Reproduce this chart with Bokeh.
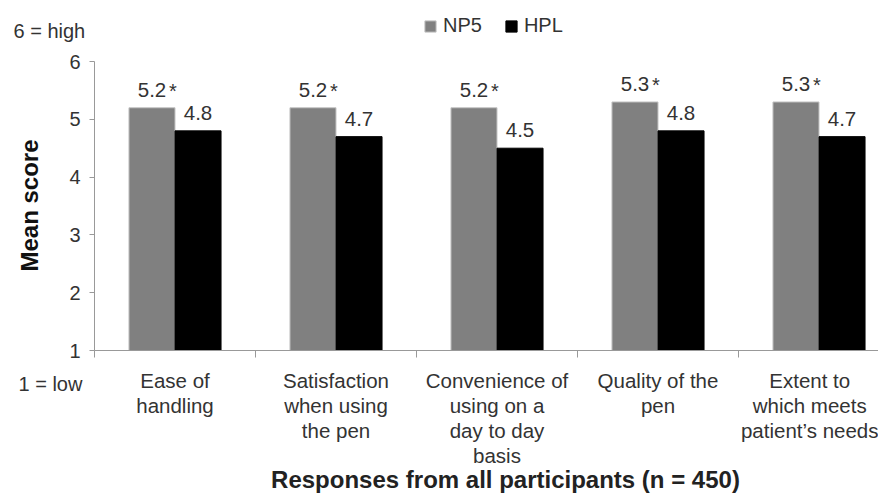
import math
from bokeh.plotting import figure
from bokeh.models import ColumnDataSource, FixedTicker, Legend, LegendItem, Label, Range1d
from bokeh.core.properties import value
from bokeh.embed import file_html
from bokeh.resources import INLINE

categories = ["Ease of\nhandling", "Satisfaction\nwhen using\nthe pen",
              "Convenience of\nusing on a\nday to day\nbasis", "Quality of the\npen",
              "Extent to\nwhich meets\npatient\u2019s needs"]
np5 = [5.2, 5.2, 5.2, 5.3, 5.3]
hpl = [4.8, 4.7, 4.5, 4.8, 4.7]
series_names = ["NP5", "HPL"]
y_ticks = [1, 2, 3, 4, 5, 6]

FONT = "Liberation Sans"
TXT = "#333333"

W, H = 878, 494
X0, Y0 = 94, 350          # pixel position of (x=0, score=1)
PX_CAT, PX_UNIT = 161, 57.8

def dx(px):
    return (px - X0) / PX_CAT

def dy(py):
    return 1 + (Y0 - py) / PX_UNIT

centers = [i + 0.5 for i in range(len(categories))]
src = ColumnDataSource(dict(
    xn=[c - 0.143 for c in centers], xh=[c + 0.143 for c in centers],
    np5=np5, hpl=hpl,
    np5_lab=[f"{v:.1f}" for v in np5], hpl_lab=[f"{v:.1f}" for v in hpl],
    star=["*"] * len(np5),
))

p = figure(width=W, height=H, output_backend="svg", toolbar_location=None,
           x_range=Range1d(dx(0), dx(W)), y_range=Range1d(dy(H), dy(0)),
           min_border=0)
p.outline_line_color = None
p.grid.visible = False
p.background_fill_color = "white"

rn = p.vbar(x="xn", top="np5", bottom=1, width=0.286, source=src,
            fill_color="#808080", line_color="#c4c4c4", line_width=1)
rh = p.vbar(x="xh", top="hpl", bottom=1, width=0.286, source=src,
            fill_color="#000000", line_color="#000000", line_width=1)

p.text(x="xn", y="np5", text="np5_lab", source=src, text_align="center", text_baseline="bottom",
       y_offset=-11, text_font=value(FONT), text_font_size="20.5px", text_color=TXT)
p.text(x="xn", y="np5", text="star", source=src, text_align="left", text_baseline="bottom",
       x_offset=17, y_offset=-6, text_font=value(FONT), text_font_size="20px", text_color=TXT)
p.text(x="xh", y="hpl", text="hpl_lab", source=src, text_align="center", text_baseline="bottom",
       y_offset=-11, text_font=value(FONT), text_font_size="20.5px", text_color=TXT)

xa = p.xaxis[0]
xa.fixed_location = 1
xa.bounds = (0, dx(W))
xa.ticker = FixedTicker(ticks=centers, minor_ticks=list(range(len(categories) + 1)))
xa.major_label_overrides = {c: lab for c, lab in zip(centers, categories)}
xa.major_tick_line_color = None
xa.major_tick_out = 7
xa.major_tick_in = 0
xa.minor_tick_out = 7
xa.minor_tick_in = 0
xa.minor_tick_line_color = "#999999"
xa.axis_line_color = "#999999"
xa.major_label_text_font = FONT
xa.major_label_text_font_size = "20.5px"
xa.major_label_text_color = TXT
xa.major_label_text_line_height = 1.1
xa.major_label_standoff = 11

ya = p.yaxis[0]
ya.fixed_location = 0
ya.ticker = FixedTicker(ticks=y_ticks, minor_ticks=[])
ya.bounds = (1, 6)
ya.major_tick_out = 5
ya.major_tick_in = 0
ya.major_tick_line_color = "#999999"
ya.axis_line_color = "#999999"
ya.major_label_text_font = FONT
ya.major_label_text_font_size = "20px"
ya.major_label_text_color = TXT
ya.major_label_standoff = 9

p.add_layout(Label(x=dx(505), y=dy(492), text="Responses from all participants (n = 450)",
                   text_font=FONT, text_font_style="bold", text_font_size="24px",
                   text_color="#222222", text_align="center", text_baseline="bottom"))
p.add_layout(Label(x=dx(29), y=dy(205), angle=math.pi / 2, text="Mean score", text_font=FONT,
                   text_font_style="bold", text_font_size="24px", text_color="#111111",
                   text_align="center", text_baseline="middle"))
p.add_layout(Label(x=dx(13), y=dy(41), text="6 = high", text_font=FONT, text_font_size="20px",
                   text_color=TXT, text_baseline="bottom", text_align="left"))
p.add_layout(Label(x=dx(18), y=dy(394.5), text="1 = low", text_font=FONT, text_font_size="20px",
                   text_color=TXT, text_baseline="bottom", text_align="left"))

legend = Legend(items=[LegendItem(label=series_names[0], renderers=[rn]),
                       LegendItem(label=series_names[1], renderers=[rh])],
                orientation="horizontal", location=(423, H - 37),
                glyph_width=14, glyph_height=14, label_standoff=6, spacing=22,
                label_text_font=FONT, label_text_font_size="20px", label_text_color=TXT,
                border_line_color=None, background_fill_alpha=0, padding=2, margin=0)
p.add_layout(legend)

open("out.html", "w").write(file_html(p, INLINE))
